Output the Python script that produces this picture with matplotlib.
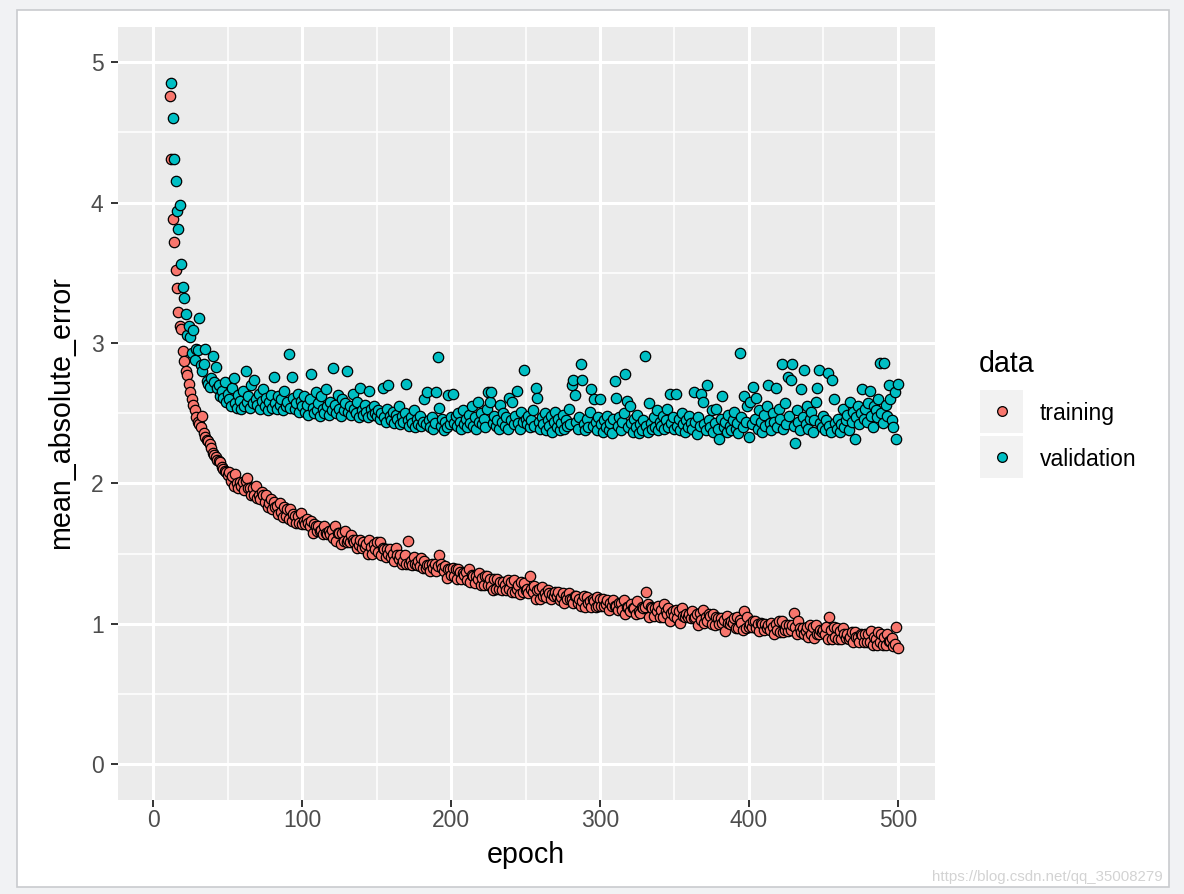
import matplotlib
matplotlib.use("Agg")
import matplotlib.pyplot as plt
from matplotlib.patches import Rectangle
from matplotlib.lines import Line2D

plt.rcParams["font.family"] = ["Liberation Sans", "DejaVu Sans"]

# ---------------- data (epochs 11..500) ----------------
training = [
    4.76, 4.31, 3.88, 3.72, 3.52, 3.39, 3.22, 3.12, 3.10, 2.94,
    2.87, 2.80, 2.77, 2.71, 2.65, 2.60, 2.56, 2.52, 2.47, 2.44,
    2.42, 2.40, 2.48, 2.36, 2.33, 2.31, 2.30, 2.28, 2.25, 2.22,
    2.20, 2.19, 2.17, 2.16, 2.15, 2.12, 2.10, 2.09, 2.08, 2.06,
    2.08, 2.02, 2.05, 1.98, 2.07, 2.00, 1.97, 2.01, 1.98, 2.01,
    1.95, 2.02, 2.04, 1.97, 1.97, 1.92, 1.97, 1.92, 1.98, 1.90,
    1.92, 1.89, 1.94, 1.92, 1.87, 1.92, 1.83, 1.86, 1.89, 1.82,
    1.87, 1.83, 1.84, 1.78, 1.86, 1.80, 1.76, 1.83, 1.77, 1.82,
    1.75, 1.82, 1.73, 1.78, 1.77, 1.72, 1.77, 1.72, 1.79, 1.71,
    1.73, 1.71, 1.75, 1.72, 1.70, 1.73, 1.65, 1.71, 1.70, 1.66,
    1.70, 1.66, 1.67, 1.64, 1.70, 1.65, 1.64, 1.66, 1.64, 1.67,
    1.61, 1.70, 1.59, 1.65, 1.65, 1.57, 1.65, 1.59, 1.66, 1.58,
    1.60, 1.58, 1.63, 1.60, 1.58, 1.60, 1.54, 1.56, 1.60, 1.54,
    1.58, 1.55, 1.57, 1.50, 1.60, 1.55, 1.50, 1.57, 1.53, 1.58,
    1.51, 1.58, 1.49, 1.54, 1.53, 1.48, 1.53, 1.50, 1.53, 1.48,
    1.50, 1.45, 1.54, 1.49, 1.46, 1.49, 1.43, 1.45, 1.49, 1.43,
    1.59, 1.43, 1.45, 1.42, 1.48, 1.43, 1.42, 1.45, 1.41, 1.47,
    1.40, 1.45, 1.40, 1.42, 1.42, 1.38, 1.43, 1.40, 1.43, 1.38,
    1.41, 1.49, 1.43, 1.40, 1.38, 1.41, 1.33, 1.39, 1.39, 1.35,
    1.40, 1.34, 1.39, 1.32, 1.39, 1.37, 1.32, 1.36, 1.35, 1.37,
    1.31, 1.39, 1.30, 1.35, 1.34, 1.29, 1.34, 1.32, 1.36, 1.28,
    1.33, 1.28, 1.34, 1.34, 1.28, 1.32, 1.27, 1.24, 1.32, 1.25,
    1.32, 1.25, 1.30, 1.24, 1.30, 1.28, 1.24, 1.31, 1.25, 1.30,
    1.23, 1.31, 1.23, 1.25, 1.28, 1.21, 1.30, 1.23, 1.29, 1.24,
    1.25, 1.22, 1.34, 1.25, 1.23, 1.27, 1.18, 1.24, 1.25, 1.18,
    1.26, 1.20, 1.22, 1.19, 1.24, 1.22, 1.18, 1.21, 1.20, 1.23,
    1.20, 1.23, 1.17, 1.19, 1.22, 1.15, 1.20, 1.18, 1.22, 1.18,
    1.18, 1.15, 1.20, 1.20, 1.15, 1.18, 1.13, 1.16, 1.20, 1.12,
    1.19, 1.15, 1.16, 1.12, 1.18, 1.16, 1.12, 1.19, 1.13, 1.18,
    1.13, 1.18, 1.13, 1.14, 1.17, 1.10, 1.15, 1.13, 1.17, 1.13,
    1.13, 1.10, 1.15, 1.15, 1.10, 1.17, 1.07, 1.12, 1.12, 1.09,
    1.14, 1.11, 1.11, 1.07, 1.16, 1.09, 1.08, 1.12, 1.11, 1.12,
    1.23, 1.14, 1.05, 1.12, 1.11, 1.06, 1.11, 1.09, 1.13, 1.05,
    1.10, 1.05, 1.14, 1.09, 1.07, 1.11, 1.02, 1.08, 1.09, 1.06,
    1.10, 1.04, 1.09, 1.01, 1.11, 1.06, 1.05, 1.07, 1.05, 1.07,
    1.04, 1.09, 1.04, 1.05, 1.07, 0.99, 1.08, 1.03, 1.10, 1.01,
    1.05, 1.02, 1.07, 1.06, 1.00, 1.07, 0.99, 1.05, 1.04, 1.00,
    1.04, 1.01, 1.03, 0.95, 1.06, 1.01, 1.00, 1.02, 1.01, 1.04,
    0.97, 1.05, 0.97, 1.03, 1.01, 0.96, 1.09, 0.97, 1.05, 0.98,
    1.00, 0.98, 1.02, 1.02, 0.97, 1.00, 0.95, 1.01, 1.00, 0.96,
    1.00, 0.97, 0.99, 0.96, 1.01, 0.98, 0.93, 1.00, 0.96, 1.02,
    0.94, 1.02, 0.94, 0.96, 0.99, 0.95, 0.99, 0.96, 0.99, 1.08,
    0.98, 0.93, 1.02, 0.97, 0.94, 0.97, 0.93, 0.95, 0.98, 0.91,
    0.99, 0.93, 0.98, 0.90, 0.99, 0.93, 0.93, 0.96, 0.94, 0.96,
    0.93, 0.98, 0.89, 1.05, 0.96, 0.89, 0.98, 0.91, 0.97, 0.89,
    0.95, 0.89, 0.97, 0.93, 0.90, 0.93, 0.89, 0.91, 0.94, 0.87,
    0.94, 0.91, 0.91, 0.87, 0.93, 0.92, 0.87, 0.93, 0.87, 0.93,
    0.87, 0.95, 0.85, 0.91, 0.89, 0.85, 0.94, 0.87, 0.93, 0.85,
    0.91, 0.85, 0.93, 0.88, 0.88, 0.90, 0.84, 0.86, 0.98, 0.83,
]

validation = [
    5.40, 4.85, 4.60, 4.31, 4.15, 3.94, 3.81, 3.98, 3.56, 3.40,
    3.32, 3.21, 3.06, 3.12, 3.04, 2.93, 3.09, 2.88, 2.96, 2.95,
    3.18, 2.84, 2.80, 2.85, 2.96, 2.73, 2.71, 2.69, 2.75, 2.91,
    2.72, 2.83, 2.68, 2.70, 2.62, 2.66, 2.61, 2.72, 2.58, 2.64,
    2.60, 2.55, 2.68, 2.75, 2.57, 2.54, 2.63, 2.59, 2.53, 2.66,
    2.55, 2.80, 2.58, 2.62, 2.54, 2.70, 2.57, 2.74, 2.60, 2.56,
    2.64, 2.53, 2.59, 2.67, 2.55, 2.61, 2.52, 2.58, 2.63, 2.54,
    2.76, 2.57, 2.53, 2.62, 2.56, 2.60, 2.52, 2.66, 2.55, 2.58,
    2.92, 2.54, 2.76, 2.61, 2.53, 2.57, 2.64, 2.51, 2.59, 2.55,
    2.62, 2.51, 2.56, 2.49, 2.60, 2.78, 2.54, 2.50, 2.65, 2.52,
    2.57, 2.48, 2.62, 2.53, 2.50, 2.67, 2.55, 2.49, 2.58, 2.52,
    2.82, 2.56, 2.50, 2.63, 2.53, 2.48, 2.60, 2.52, 2.57, 2.80,
    2.51, 2.55, 2.49, 2.64, 2.53, 2.50, 2.58, 2.47, 2.68, 2.52,
    2.49, 2.56, 2.51, 2.47, 2.66, 2.53, 2.49, 2.55, 2.50, 2.48,
    2.52, 2.46, 2.50, 2.68, 2.47, 2.44, 2.53, 2.70, 2.48, 2.45,
    2.51, 2.43, 2.49, 2.46, 2.55, 2.42, 2.48, 2.44, 2.50, 2.71,
    2.45, 2.41, 2.47, 2.43, 2.52, 2.40, 2.46, 2.42, 2.48, 2.41,
    2.44, 2.60, 2.42, 2.65, 2.45, 2.40, 2.47, 2.39, 2.43, 2.65,
    2.90, 2.54, 2.41, 2.46, 2.38, 2.44, 2.40, 2.63, 2.42, 2.47,
    2.64, 2.43, 2.48, 2.41, 2.50, 2.44, 2.39, 2.52, 2.42, 2.46,
    2.40, 2.49, 2.43, 2.55, 2.41, 2.47, 2.39, 2.58, 2.44, 2.50,
    2.42, 2.46, 2.40, 2.53, 2.65, 2.58, 2.65, 2.43, 2.48, 2.41,
    2.45, 2.39, 2.56, 2.44, 2.50, 2.41, 2.47, 2.39, 2.61, 2.45,
    2.58, 2.42, 2.48, 2.66, 2.43, 2.39, 2.51, 2.44, 2.81, 2.46,
    2.42, 2.48, 2.40, 2.45, 2.52, 2.41, 2.68, 2.61, 2.44, 2.39,
    2.47, 2.42, 2.50, 2.38, 2.45, 2.41, 2.48, 2.37, 2.44, 2.51,
    2.40, 2.46, 2.38, 2.43, 2.49, 2.39, 2.45, 2.41, 2.53, 2.42,
    2.70, 2.74, 2.63, 2.44, 2.39, 2.47, 2.85, 2.74, 2.42, 2.38,
    2.46, 2.40, 2.51, 2.67, 2.41, 2.60, 2.44, 2.38, 2.47, 2.60,
    2.42, 2.37, 2.45, 2.40, 2.48, 2.38, 2.43, 2.36, 2.46, 2.73,
    2.61, 2.41, 2.47, 2.38, 2.44, 2.50, 2.78, 2.59, 2.40, 2.55,
    2.43, 2.37, 2.46, 2.40, 2.49, 2.36, 2.42, 2.38, 2.45, 2.91,
    2.41, 2.37, 2.57, 2.43, 2.39, 2.47, 2.40, 2.52, 2.38, 2.44,
    2.41, 2.48, 2.39, 2.45, 2.53, 2.40, 2.64, 2.43, 2.47, 2.39,
    2.64, 2.41, 2.46, 2.38, 2.50, 2.42, 2.37, 2.45, 2.40, 2.48,
    2.43, 2.39, 2.65, 2.44, 2.35, 2.47, 2.41, 2.64, 2.58, 2.42,
    2.38, 2.70, 2.45, 2.40, 2.52, 2.37, 2.43, 2.53, 2.39, 2.32,
    2.46, 2.62, 2.40, 2.44, 2.37, 2.49, 2.41, 2.38, 2.45, 2.51,
    2.39, 2.43, 2.36, 2.93, 2.47, 2.40, 2.62, 2.44, 2.55, 2.33,
    2.58, 2.42, 2.69, 2.46, 2.61, 2.39, 2.52, 2.44, 2.37, 2.49,
    2.41, 2.55, 2.70, 2.43, 2.38, 2.50, 2.44, 2.68, 2.40, 2.53,
    2.46, 2.85, 2.39, 2.57, 2.42, 2.76, 2.48, 2.74, 2.85, 2.41,
    2.29, 2.52, 2.44, 2.38, 2.67, 2.47, 2.81, 2.42, 2.55, 2.39,
    2.46, 2.51, 2.37, 2.45, 2.58, 2.68, 2.81, 2.43, 2.40, 2.48,
    2.38, 2.45, 2.79, 2.41, 2.37, 2.74, 2.60, 2.43, 2.39, 2.46,
    2.37, 2.42, 2.53, 2.40, 2.45, 2.49, 2.38, 2.58, 2.44, 2.51,
    2.32, 2.47, 2.55, 2.42, 2.50, 2.67, 2.46, 2.53, 2.44, 2.57,
    2.66, 2.48, 2.40, 2.55, 2.52, 2.47, 2.60, 2.86, 2.50, 2.43,
    2.86, 2.56, 2.48, 2.70, 2.60, 2.45, 2.40, 2.65, 2.32, 2.71,
]

first_epoch = 11
series_names = ["training", "validation"]
series_colors = ["#F8766D", "#00BFC4"]
x_ticks = [0, 100, 200, 300, 400, 500]
y_ticks = [0, 1, 2, 3, 4, 5]
x_minor = [50, 150, 250, 350, 450]
y_minor = [0.5, 1.5, 2.5, 3.5, 4.5]
x_title = "epoch"
y_title = "mean_absolute_error"
legend_title = "data"
watermark = "https://blog.csdn.net/qq_35008279"

# ---------------- figure ----------------
W, H = 1184, 894
fig = plt.figure(figsize=(W / 100, H / 100), dpi=100, facecolor="#F1F2F4")


def fx(px):
    return px / W


def fy(py):
    return 1 - py / H


# window frame of the screenshot
fig.add_artist(Rectangle((fx(17), fy(887)), fx(1169) - fx(17), fy(10) - fy(887),
                         transform=fig.transFigure, facecolor="white",
                         edgecolor="#C9CBCE", lw=1.2, zorder=0))

ax = fig.add_axes([fx(117.5), fy(799.5), fx(935) - fx(117.5), fy(27) - fy(799.5)])
ax.set_facecolor("#EBEBEB")
ax.set_xlim(-23.95, 524.95)
ax.set_ylim(-0.25, 5.25)
for s in ax.spines.values():
    s.set_visible(False)

ax.set_xticks(x_ticks)
ax.set_yticks(y_ticks)
ax.set_xticklabels([str(t) for t in x_ticks])
ax.set_yticklabels([str(t) for t in y_ticks])
ax.set_xticks(x_minor, minor=True)
ax.set_yticks(y_minor, minor=True)
ax.tick_params(which="major", length=5, width=1.4, color="#333333",
               labelcolor="#4D4D4D", labelsize=16.5)
ax.tick_params(axis="x", which="major", pad=2)
ax.tick_params(axis="y", which="major", pad=5)
ax.tick_params(which="minor", length=0)
ax.grid(which="major", color="white", lw=2.2)
ax.grid(which="minor", color="white", lw=1.1)
ax.set_axisbelow(True)

for vals, col in zip([training, validation], series_colors):
    ep = list(range(first_epoch, first_epoch + len(vals)))
    ax.scatter(ep, vals, s=56, c=col, edgecolors="black", linewidths=0.9, zorder=3)

# axis titles
fig.text(fx(526), fy(863), x_title, ha="center", va="baseline", fontsize=20.6, color="black")
fig.text(fx(61), fy(413), y_title, ha="center", va="center", rotation=90,
         fontsize=20.6, color="black")

# legend (ggplot style)
fig.text(fx(979), fy(372), legend_title, ha="left", va="baseline", fontsize=20.6, color="black")
key_tops = [390, 435.5]
label_baselines = [420, 466]
for name, col, top, base in zip(series_names, series_colors, key_tops, label_baselines):
    fig.add_artist(Rectangle((fx(980), fy(top + 42.5)), fx(1023) - fx(980), fy(top) - fy(top + 42.5),
                             transform=fig.transFigure, facecolor="#F2F2F2", edgecolor="none"))
    fig.add_artist(Line2D([fx(1001.5)], [fy(top + 21)], transform=fig.transFigure, marker="o",
                          markersize=7, markerfacecolor=col, markeredgecolor="black",
                          markeredgewidth=0.9, linestyle="none"))
    fig.text(fx(1040), fy(base), name, ha="left", va="baseline", fontsize=16.5, color="black")

fig.text(fx(932), fy(881), watermark, ha="left", va="baseline", fontsize=10.8, color="#D3D3D3")

fig.savefig("out.png", dpi=100, facecolor=fig.get_facecolor())
